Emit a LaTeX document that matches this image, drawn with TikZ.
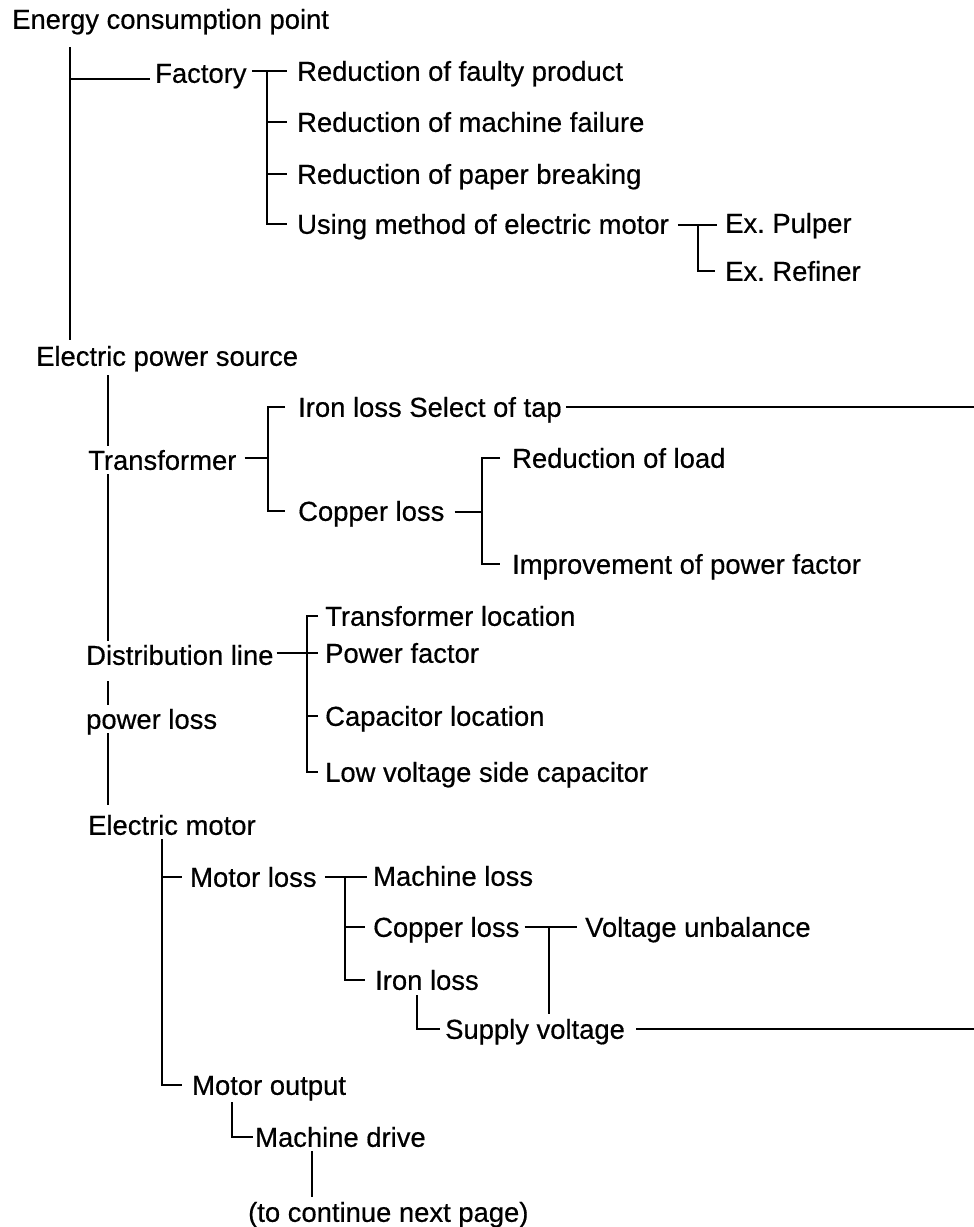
\documentclass[tikz,border=0pt]{standalone}
\usepackage{fontspec}
\setmainfont{Liberation Sans}
\newfontfamily\dkfont[FakeBold=0.5]{Liberation Sans}
\frenchspacing
\begin{document}
\begin{tikzpicture}[x=1pt,y=-1pt,
  lbl/.style={anchor=west,inner xsep=0pt,inner ysep=4pt,text height=19.6pt,text depth=0pt,font=\dkfont\fontsize{27.4pt}{30pt}\selectfont},
  ln/.style={line width=2.2pt,line cap=butt}]
\useasboundingbox (0,0) rectangle (974,1227);
% nodes
\node[lbl] (ecp) at (12,19) {Energy consumption point};
\node[lbl] (fac) at (155,73) {Factory};
\node[lbl] (r1) at (297,71) {Reduction of faulty product};
\node[lbl] (r2) at (297,122) {Reduction of machine failure};
\node[lbl] (r3) at (297,174) {Reduction of paper breaking};
\node[lbl] (r4) at (297,224) {Using method of electric motor};
\node[lbl] (pul) at (725,223) {Ex. Pulper};
\node[lbl] (ref) at (725,271) {Ex. Refiner};
\node[lbl] (eps) at (36,356) {Electric power source};
\node[lbl] (tr) at (88,460) {Transformer};
\node[lbl] (il) at (298,407) {Iron loss Select of tap};
\node[lbl] (cl) at (298,511) {Copper loss};
\node[lbl] (rl) at (512,458) {Reduction of load};
\node[lbl] (ipf) at (512,564) {Improvement of power factor};
\node[lbl] (dl) at (86,655) {Distribution line};
\node[lbl] (pl) at (86,719) {power loss};
\node[lbl] (tl) at (325,616) {Transformer location};
\node[lbl] (pf) at (325,653) {Power factor};
\node[lbl] (capl) at (325,716) {Capacitor location};
\node[lbl] (lvs) at (325,772) {Low voltage side capacitor};
\node[lbl] (em) at (88,825) {Electric motor};
\node[lbl] (ml) at (190,877) {Motor loss};
\node[lbl] (mo) at (192,1085) {Motor output};
\node[lbl] (mal) at (373,876) {Machine loss};
\node[lbl] (cul) at (373,927) {Copper loss};
\node[lbl] (irl) at (375,980) {Iron loss};
\node[lbl] (vu) at (585,927) {Voltage unbalance};
\node[lbl] (sv) at (445,1029) {Supply voltage};
\node[lbl] (md) at (255,1137) {Machine drive};
\node[lbl] (cont) at (248,1212) {(to continue next page)};
% junction coordinates
\coordinate (m0) at (70,47);
\coordinate (m1) at (70,340);
\coordinate (jf) at (70,79);
\coordinate (fb) at (267,71);
\coordinate (pb) at (698,225);
\coordinate (v2) at (108,0);
\coordinate (tb) at (268,458);
\coordinate (cb) at (482,512);
\coordinate (db) at (307,653);
\coordinate (eb) at (162,0);
\coordinate (mb) at (345,877);
\coordinate (kb) at (549,927);
\coordinate (ib) at (417,0);
\coordinate (ob) at (232,0);
\coordinate (xb) at (312,0);
\coordinate (rightA) at (974,407);
\coordinate (rightB) at (974,1029);
% energy consumption point
\draw[ln] (m0) -- (m1);
\draw[ln] (jf) -- ([xshift=-5pt]fac.west |- jf);
% factory bracket
\draw[ln] ([xshift=5pt]fac.east |- fb) -- ([xshift=-10pt]r1.west);
\draw[ln] (fb) |- ([xshift=-10pt]r4.west);
\draw[ln] (fb |- r2) -- ([xshift=-10pt]r2.west);
\draw[ln] (fb |- r3) -- ([xshift=-10pt]r3.west);
% pulper bracket
\draw[ln] ([xshift=9pt]r4.east |- pb) -- ([xshift=-8pt]pul.west |- pb);
\draw[ln] (pb) |- ([xshift=-10pt]ref.west);
% electric power source spine
\draw[ln] (eps.south -| v2) ++(0,5) -- (tr.north -| v2);
\draw[ln] (tr.south -| v2) -- (dl.north -| v2);
\draw[ln] (dl.south -| v2) ++(0,12) -- (pl.north -| v2);
\draw[ln] (pl.south -| v2) -- ([yshift=6pt]em.north -| v2);
% transformer bracket
\draw[ln] ([xshift=8pt]tr.east |- tb) -- (tb);
\draw[ln] ([xshift=-13pt]il.west) -| (tb |- cl) -- ([xshift=-13pt]cl.west);
\draw[ln] (il.east) ++(4,0) -- (rightA);
% copper loss bracket
\draw[ln] ([xshift=10pt]cl.east |- cb) -- (cb);
\draw[ln] ([xshift=-12pt]rl.west) -| (cb |- ipf) -- ([xshift=-12pt]ipf.west);
% distribution bracket
\draw[ln] ([xshift=3pt]dl.east |- db) -- ([xshift=-7pt]pf.west);
\draw[ln] ([xshift=-7pt]tl.west) -| (db |- lvs) -- ([xshift=-7pt]lvs.west);
\draw[ln] (db |- capl) -- ([xshift=-7pt]capl.west);
% electric motor
\draw[ln] (em.south -| eb) |- ([xshift=-10pt]mo.west);
\draw[ln] (eb |- ml) -- ([xshift=-8pt]ml.west);
% motor loss bracket
\draw[ln] ([xshift=8pt]ml.east |- mb) -- ([xshift=-6pt]mal.west |- mb);
\draw[ln] (mb) |- ([xshift=-10pt]irl.west);
\draw[ln] (mb |- cul) -- ([xshift=-8pt]cul.west);
% copper loss (motor) bracket
\draw[ln] ([xshift=5pt]cul.east |- kb) -- ([xshift=-8pt]vu.west);
\draw[ln] (kb) -- ([yshift=1pt]kb |- sv.north);
% iron loss to supply voltage
\draw[ln] ([yshift=-1pt]irl.south -| ib) |- ([xshift=-5pt]sv.west);
\draw[ln] ([xshift=11pt]sv.east) -- (rightB);
% motor output to machine drive
\draw[ln] ([yshift=-3pt]mo.south -| ob) |- ([xshift=-2pt]md.west);
\draw[ln] (md.south -| xb) -- ([yshift=1pt]cont.north -| xb);
\end{tikzpicture}
\end{document}
